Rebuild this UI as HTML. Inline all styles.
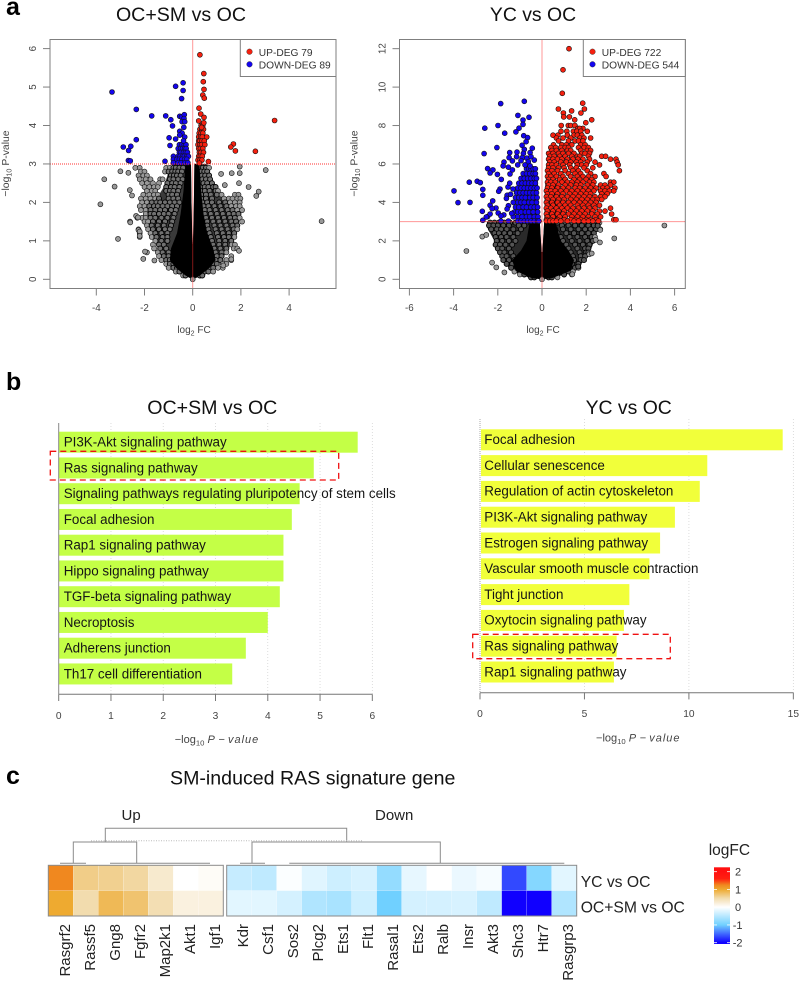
<!DOCTYPE html>
<html lang="en">
<head>
<meta charset="utf-8">
<title>RAS signature figure</title>
<style>
html,body{margin:0;padding:0;background:#fff;}
svg{display:block;font-family:"Liberation Sans",sans-serif;}
</style>
</head>
<body>
<svg id="fig" xmlns="http://www.w3.org/2000/svg" width="800" height="982" viewBox="0 0 800 982">
  <g id="static">
    <text x="6" y="15" font-size="25" font-weight="bold" fill="#000">a</text>
    <text x="6" y="390" font-size="25" font-weight="bold" fill="#000">b</text>
    <text x="6" y="784" font-size="25" font-weight="bold" fill="#000">c</text>
    <text x="181" y="21" font-size="19.6" text-anchor="middle" fill="#111">OC+SM vs OC</text>
    <text x="533" y="21" font-size="19.4" text-anchor="middle" fill="#111">YC vs OC</text>
    <text x="212.3" y="414" font-size="19.6" text-anchor="middle" fill="#111">OC+SM vs OC</text>
    <text x="628.7" y="414" font-size="19.4" text-anchor="middle" fill="#111">YC vs OC</text>
    <text x="170" y="784.7" font-size="19.6" fill="#111">SM-induced RAS signature gene</text>
    <text x="121.5" y="820" font-size="15" fill="#222">Up</text>
    <text x="375" y="820" font-size="15" fill="#222">Down</text>
    <text x="580.7" y="887" font-size="15.7" fill="#222">YC vs OC</text>
    <text x="580.7" y="912.7" font-size="15.7" fill="#222">OC+SM vs OC</text>
    <text x="708.7" y="855" font-size="15.5" fill="#222">logFC</text>
  </g>
  <g stroke="#8a8a8a" stroke-width="1" fill="none">
    <path d="M105.3 842V828.3H346.7V842"/>
    <path d="M73.3 863.3V842H136.7V863.3"/>
    <path d="M252 863.3V842H440.3V863.3"/>
    <path d="M60 863.3H86M110 863.3H210M240 863.3H265M289.3 863.3H564.3"/>
    <path d="M91 840.7H363.3" stroke="#bbb" stroke-dasharray="1 1.5"/>
  </g>
</svg>
<script>
/* ---------- volcano A (OC+SM vs OC): values are log2FC / -log10P ---------- */
const volcanoAGrayRows = [
[2.9,[-2.38,-2.2,-1.1,-.95,-.8,-.7,-.55,-.4,.2,.3,.42,.55,.68]],
[2.8,[-2.15,-2.0,-1.15,-1,-.85,-.72,-.6,-.45,.22,.35,.48,.6]],
[2.7,[-2.25,-2.05,-1.9,-.9,-.78,-.65,-.5,.25,.38,.52,.68]],
[2.6,[-2.2,-1.95,-1.75,-1.35,-1.25,-.95,-.8,-.6,-.42,.25,.4,.55,.72]],
[2.5,[-2.1,-1.9,-1.65,-1.4,-1.05,-.85,-.7,-.5,.3,.45,.6,.8]],
[2.4,[-2,-1.8,-1.6,-1.45,-1.1,-.9,-.75,-.55,.3,.5,.65,.85,.95]],
[2.3,[-1.9,-1.7,-1.55,-1.1,-.95,-.8,-.6,.32,.5,.7,.95,1.05]],
[2.2,[-2.05,-1.8,-1.6,-1.45,-1.0,-.85,-.65,.35,.55,.75,1.0,1.2,1.75,1.9]],
[2.1,[-2.15,-1.95,-1.75,-1.55,-1.4,-1.0,-.8,-.6,.35,.55,.8,1.3,1.5,1.65,1.85,1.98]],
[2.0,[-2.1,-1.9,-1.7,-1.5,-1.35,-1.15,-.95,-.75,-.55,.4,.6,.8,1.1,1.35,1.55,1.75,1.95]],
[1.9,[-2.2,-2.0,-1.8,-1.6,-1.45,-1.25,-1.05,-.85,-.65,.45,.65,.9,1.15,1.4,1.6,1.8,1.95]],
[1.8,[-2.15,-1.95,-1.75,-1.55,-1.35,-1.15,-.9,-.7,.5,.7,.95,1.2,1.45,1.65,1.85,2.05]],
[1.7,[-1.95,-1.75,-1.6,-1.4,-1.2,-1,-.75,.5,.75,1,1.25,1.5,1.7,1.9]],
[1.6,[-2.3,-2.1,-1.95,-1.75,-1.55,-1.3,-1.05,-.8,.55,.8,1.05,1.3,1.55,1.75,1.95]],
[1.5,[-2.6,-2.0,-1.85,-1.65,-1.4,-1.15,-.85,.6,.85,1.1,1.35,1.6,1.8,2.05]],
[1.4,[-1.9,-1.7,-1.45,-1.2,-.9,.6,.9,1.15,1.4,1.65,1.85]],
[1.3,[-2.25,-1.85,-1.65,-1.4,-1.15,-.95,.65,.95,1.2,1.45,1.7,1.85]],
[1.2,[-2.2,-1.75,-1.55,-1.3,-1.05,.7,1,1.25,1.5,1.72]],
[1.1,[-2.2,-1.7,-1.5,-1.25,-1.05,.75,1.05,1.3,1.5,1.73]],
[1.0,[-1.55,-1.3,-1.05,.8,1.1,1.35,1.6]],
[.9,[-1.65,-1.4,-1.2,.85,1.1,1.35,1.62,1.75]],
[.8,[-1.6,-1.35,-1.1,.9,1.15,1.4,1.7,1.85]],
[.7,[-1.9,-1.45,-1.25,-1.0,.95,1.2,1.4]],
[.6,[-1.4,-1.2,-1.0,1,1.2,1.6]],
[.5,[-1.3,-1.1,-.95,.95,1.15,1.4,1.6]],
[.4,[-1.1,-.95,-.8,.85,1.0,1.25,1.4]],
[.3,[-1,-.8,-.65,.7,.85,1.05,1.25]],
[.2,[-.7,-.55,.5,.65,.85]],
[.1,[-.4,-.3,.3,.4]]
];
const volcanoAGrayOutliers = [[-3.83,1.95],[-3.67,2.6],[-3.24,2.41],[-3.1,1.05],[-3,2.81],[-2.67,2.77],[-2.61,2.32],[-2.52,2.18],[-2.59,1.48],[-2.35,1.65],[-2.27,1.61],[-2.25,1.28],[-2.2,1.24],[-2.2,1.13],[-2.05,.53],[-1.98,.72],[-1.59,.49],[5.35,1.51],[3.03,2.84],[2.74,2.28],[2.64,2.17],[2.32,2.4],[1.95,2.93],[1.62,2.76],[1.95,2.76],[1.18,2.74],[1.92,2.5],[1.33,2.45],[1.92,.74],[1.6,.52],[1.27,.36]];
const volcanoARedRows = [
[4.0,[.35,.42]],[3.9,[.3,.38,.45]],[3.8,[.27,.35,.42]],[3.7,[.25,.33,.4,.58]],[3.6,[.25,.3,.38,.48]],[3.5,[.22,.3,.37,.5]],[3.4,[.25,.32,.42]],[3.3,[.28,.35,.45]],[3.2,[.25,.32,.4]],[3.1,[.22,.3,.38]],[3.02,[.28]]
];
const volcanoARedOutliers = [[.3,5.84],[.46,5.35],[.44,5.14],[.47,4.94],[.42,4.79],[.48,4.71],[.26,4.45],[.33,4.3],[.47,4.21],[.25,4.12],[.46,4.07],[.37,3.95],[3.4,4.13],[1.69,3.52],[1.58,3.44],[1.77,3.34],[2.6,3.33],[.65,3.06]];
const volcanoABlueRows = [
[3.5,[-.55,-.45,-.35,-.28]],[3.4,[-.6,-.5,-.42,-.33,-.27]],[3.3,[-.55,-.48,-.38,-.3,-.22]],[3.2,[-.8,-.6,-.52,-.42,-.35,-.25,-.18]],[3.12,[-.8,-.65,-.55,-.45,-.33,-.25]],[3.03,[-.8,-.6,-.48,-.32,-.2]]
];
const volcanoABlueOutliers = [[-3.35,4.87],[-2.34,4.42],[-1.7,4.25],[-1.12,4.25],[-.91,4.15],[-.84,3.99],[-.4,5.11],[-.71,5.02],[-.4,4.91],[-.46,4.7],[-2.34,3.63],[-2.88,3.44],[-2.57,3.46],[-2.66,3.35],[-2.67,3.09],[-2.59,3.08],[-1.15,3.07],[-.98,3.68],[-.94,3.48],[-.71,3.65],[-.54,4.24],[-.46,4.22],[-.35,4.28],[-.36,4.18],[-.44,4.1],[-.33,4.1],[-.37,3.95],[-.54,3.85],[-.44,3.8],[-.54,3.75],[-.33,3.7],[-.38,3.6]];
const volcanoAMidEnvelope = [[0,0],[-.35,.1],[-.8,.3],[-1.2,.55],[-1.4,.8],[-1.6,1.2],[-1.85,1.6],[-1.9,1.9],[-1.5,2.1],[-1.2,2.4],[-1,2.8],[-.75,3],[-.07,3],[-.05,2],[-.02,1],[0,.6],[.02,1],[.05,2],[.07,3],[.6,3],[.8,2.6],[1.1,2.2],[1.6,1.9],[1.95,1.7],[1.8,1.2],[1.5,.8],[1.2,.5],[.8,.25],[.35,.08]];
const volcanoACoreEnvelope = [[0,0],[-.3,.1],[-.7,.3],[-.95,.5],[-.9,.8],[-.65,1.2],[-.5,1.7],[-.38,2.3],[-.3,3],[-.07,3],[-.05,2],[-.02,1.2],[0,.9],[.02,1.2],[.05,2],[.07,3],[.28,3],[.35,2.3],[.45,1.7],[.6,1.2],[.85,.8],[.95,.5],[.7,.3],[.3,.1]];
const volcanoAXTicks = [-4,-2,0,2,4];
const volcanoAYTicks = [0,1,2,3,4,5,6];

/* ---------- volcano B (YC vs OC) ---------- */
const volcanoBGrayRows = [
[2.95,[-2.35,-2.15,-1.95,-1.7,-1.45,-1.2,-.95,-.7,.4,.7,1,1.3,1.6,1.9,2.15,2.4,2.6]],
[2.8,[-2.4,-2.2,-2,-1.75,-1.5,-1.05,-.8,.5,.9,1.2,1.5,1.8,2.1,2.35,2.52]],
[2.6,[-2.3,-2.05,-1.85,-1.6,-1.3,-.95,.6,.95,1.3,1.65,1.95,2.2,2.45,2.64]],
[2.4,[-2.15,-1.95,-1.7,-1.45,-1.1,.7,1.1,1.45,1.8,2.1,2.35]],
[2.2,[-2.1,-1.85,-1.6,-1.3,.85,1.25,1.6,1.95,2.25,2.4]],
[2,[-2.05,-1.8,-1.5,-1.2,.95,1.35,1.7,2.05,2.3]],
[1.8,[-2.1,-1.9,-1.65,-1.35,1.1,1.5,1.85,2.15]],
[1.6,[-2,-1.8,-1.5,1.2,1.6,1.95,2.1]],
[1.4,[-1.9,-1.7,-1.4,1.3,1.7,2.0,2.1]],
[1.2,[-1.8,-1.6,-1.3,1.4,1.75,1.95]],
[1,[-1.75,-1.5,-1.25,1.45,1.75,1.9]],
[.8,[-1.6,-1.35,1.35,1.65]],
[.6,[-1.4,-1.15,1.25,1.5,1.65]],
[.4,[-1.25,-1,-.85,1,1.2,1.4]],
[.25,[-1,-.8,-.6,.7,1,1.35]],
[.1,[-.5,-.35,.3,.45,.7]]
];
const volcanoBGrayOutliers = [[-3.42,1.47],[-2.7,2.22],[-2.52,2.31],[-2.26,.87],[-2.07,.62],[-1.7,.36],[3.27,2.13],[5.54,2.8],[2.62,1.92],[2.43,2.05],[2.14,1.3],[2.25,1.35],[1.64,.66],[1.37,.26],[2.64,2.57],[2.52,2.79]];
const volcanoBRedRows = [
[12,[1.22]],[10.9,[.95]],[9.68,[.92]],[9.16,[1.84]],[8.86,[.74,1.92]],[8.76,[1.34]],[8.65,[.97,1.76]],[8.45,[.98,1.24]],[8.3,[1.48,2.25]],[8.15,[1.98]],[8,[.87,1.19,1.3,1.49]],[7.85,[1.62,1.85,1.7]],
[7.7,[.86,1.12,1.42,1.58,1.75,2.05]],[7.5,[.5,.72,1.15,1.45,1.6,1.8]],[7.35,[.65,.95,1.3,1.72,1.9,2.2]],[7.2,[.75,1.2,1.5,1.65,1.85]],[7,[.52,.9,1.1,1.35,1.75,1.95]],
[6.85,[.4,.62,.85,1.05,1.2,1.65,1.9,2.1]],[6.7,[.45,.65,.9,1.15,1.3,1.75,2.05,2.2]],[6.55,[.3,.5,.75,.95,1.2,1.45,1.8,1.95,2.15]],[6.4,[.35,.55,.8,1.05,1.35,1.6,1.7,2.1,2.7,2.88]],
[6.25,[.3,.5,.7,.9,1.15,1.4,1.62,1.85,2.15,3.1,3.35]],[6.1,[.35,.55,.85,1.1,1.3,1.55,1.75,2.05,2.4,3.4]],[5.95,[.3,.45,.65,.95,1.25,1.6,1.8,2.0,2.6,3.45]],[5.8,[.3,.5,.75,1,1.3,1.55,1.9,2.3]],
[5.65,[.25,.45,.7,1.05,1.4,1.65,2.05,3.5]],[5.5,[.3,.55,.85,1.2,1.5,1.75,2.2,2.8]],[5.35,[.25,.4,.65,.95,1.3,1.6,1.85,2.1,2.4,2.9]],[5.2,[.3,.5,.8,1.05,1.45,1.7,2,2.25]],
[5.05,[.25,.4,.6,.9,1.15,1.35,1.6,1.85,2.15,2.35,3.1,3.25]],[4.9,[.3,.5,.75,1.05,1.3,1.55,1.75,2.05,2.3,2.65,2.85,3.1]],[4.75,[.25,.45,.7,.95,1.2,1.5,1.7,1.95,2.2,2.45,2.75,2.95,3.3]],
[4.6,[.2,.4,.6,.85,1.1,1.35,1.6,1.85,2.1,2.35,2.65,2.85,3.05,3.25]],[4.45,[.25,.45,.7,.95,1.25,1.5,1.75,2,2.2,2.7,2.95]],[4.3,[.2,.4,.65,.9,1.15,1.4,1.65,1.9,2.15,2.4,2.65,2.85]],
[4.15,[.25,.5,.75,1,1.3,1.55,1.8,2.05,2.3,2.5,2.7]],[4,[.2,.45,.7,.95,1.2,1.45,1.7,1.95,2.2,2.45]],[3.85,[.25,.5,.8,1.05,1.3,1.6,1.85,2.1,2.35,2.6]],[3.7,[.2,.4,.65,.9,1.15,1.4,1.65,1.9,2.15,2.4,3.1]],
[3.55,[.25,.5,.75,1,1.3,1.55,1.8,2.05,2.3,2.6,2.85]],[3.4,[.2,.45,.7,.95,1.2,1.45,1.7,1.95,2.25,2.5,3.15]],[3.25,[.25,.5,.8,1.05,1.35,1.6,1.85,2.1,2.4,2.65]],
[3.1,[.2,.4,.7,1,1.3,1.5,1.75,2,2.2,2.45,3.25,3.35]],[3.03,[.2,.35,.5,.65,.85,1.15,1.45,1.65,1.9,2.1,2.3,2.55]]
];
const volcanoBBlueRows = [
[5.75,[-.7,-.6,-.5,-.4,-.3]],[5.5,[-.85,-.7,-.55,-.4,-.3]],[5.25,[-.95,-.8,-.65,-.5,-.35,-.25]],[5,[-1.05,-.9,-.75,-.6,-.45,-.3]],[4.75,[-1.1,-.95,-.8,-.65,-.5,-.35,-.22]],
[4.5,[-1.15,-1,-.85,-.7,-.55,-.4,-.25]],[4.25,[-1.2,-1.05,-.9,-.75,-.55,-.4,-.22]],[4,[-1.3,-1.1,-.95,-.8,-.6,-.45,-.25]],[3.75,[-1.2,-1.05,-.85,-.7,-.5,-.35,-.2]],
[3.5,[-1.25,-1.1,-.95,-.75,-.6,-.4,-.2]],[3.25,[-1.3,-1.1,-.9,-.7,-.55,-.35,-.18]],[3.03,[-1.1,-.95,-.8,-.65,-.5,-.35,-.2,-.14]]
];
const volcanoBBlueOutliers = [[-1.87,9.14],[-.8,9.26],[-1.09,8.53],[-.59,8.43],[-.86,8.29],[-.86,8.06],[-1.99,8],[-2.59,7.86],[-1.04,7.86],[-1.18,7.67],[-1.69,7.6],[-.83,7.47],[-.65,7.37],[-.72,7.16],[-.9,6.97],[-2.04,6.85],[-.8,6.76],[-.44,6.82],[-2.62,6.54],[-1.46,6.59],[-1.13,6.62],[-.84,6.55],[-.54,6.59],[-1.49,6.33],[-1.15,6.38],[-.89,6.33],[-.69,6.3],[-.5,6.38],[-.35,6.2],[-1.72,6.1],[-1.34,6.16],[-.95,6.17],[-.62,6.12],[-1.76,5.9],[-1.52,5.83],[-1.1,5.95],[-.77,5.95],[-.54,5.9],[-2.46,5.76],[-2.22,5.69],[-2.35,5.53],[-2.02,5.46],[-1.34,5.69],[-1.45,5.48],[-1.84,5.2],[-3.29,5.05],[-2.93,5.1],[-2.79,5.03],[-3.98,4.6],[-2.68,4.68],[-1.9,4.7],[-1.96,4.58],[-1.54,4.8],[-1.46,5],[-1.31,4.7],[-2.68,4.37],[-3.8,3.99],[-3.26,4],[-2.23,4.08],[-1.58,4.37],[-1.42,4.42],[-1.61,4.21],[-2.35,3.85],[-2.08,3.71],[-2.26,3.68],[-2.7,3.54],[-1.52,3.83],[-1.58,3.66],[-1.98,3.45],[-1.73,3.35],[-2.46,3.26],[-2.35,3.4],[-2.68,3.07],[-2.52,3.24],[-1.86,3.3],[-1.86,3.03],[-1.52,3.03],[-1.37,3.43]];
const volcanoBMidEnvelope = [[0,0],[-.5,.08],[-1.1,.3],[-1.5,.6],[-1.8,1],[-2,1.5],[-2.2,2.1],[-2.45,2.6],[-2.5,3],[-.1,3],[-.02,1.4],[.02,1.4],[.1,3],[2.6,3],[2.4,2.4],[2.3,1.8],[2.1,1.2],[1.7,.7],[1.3,.35],[.6,.1]];
const volcanoBCoreEnvelope = [[0,0],[-.45,.05],[-1.2,.45],[-1.35,1],[-.95,1.5],[-.7,2],[-.55,3],[-.1,3],[-.02,1.4],[.02,1.4],[.1,3],[.6,3],[.85,2],[1.2,1.5],[1.45,1],[1.3,.45],[.45,.05]];
const volcanoBBlueDense = [[-1,3.05],[-.12,3.05],[-.2,5.5],[-.35,5.8],[-.7,5.8],[-.8,5.2],[-1,4.2]];
const volcanoBRedDense = [[.1,3.05],[.15,5],[.3,5.7],[.6,5.2],[.9,4],[1,3.05]];
const volcanoBXTicks = [-6,-4,-2,0,2,4,6];
const volcanoBYTicks = [0,2,4,6,8,10,12];

/* ---------- pathway bars ---------- */
const barsACategories = ["PI3K-Akt signaling pathway","Ras signaling pathway","Signaling pathways regulating pluripotency of stem cells","Focal adhesion","Rap1 signaling pathway","Hippo signaling pathway","TGF-beta signaling pathway","Necroptosis","Adherens junction","Th17 cell differentiation"];
const barsAValues = [5.72,4.88,4.61,4.46,4.30,4.30,4.23,4.0,3.58,3.32];
const barsATicks = [0,1,2,3,4,5,6];
const barsBCategories = ["Focal adhesion","Cellular senescence","Regulation of actin cytoskeleton","PI3K-Akt signaling pathway","Estrogen signaling pathway","Vascular smooth muscle contraction","Tight junction","Oxytocin signaling pathway","Ras signaling pathway","Rap1 signaling pathway"];
const barsBValues = [14.49,10.88,10.52,9.33,8.62,8.11,7.15,6.89,6.54,6.41];
const barsBTicks = [0,5,10,15];

/* ---------- heatmap ---------- */
const heatGenesUp = ["Rasgrf2","Rassf5","Gng8","Fgfr2","Map2k1","Akt1","Igf1"];
const heatUpYC = [1.25,.65,.62,.55,.3,0,.05];
const heatUpOCSM = [1.0,.5,.85,.75,.47,.2,.2];
const heatGenesDown = ["Kdr","Csf1","Sos2","Plcg2","Ets1","Flt1","Rasal1","Ets2","Ralb","Insr","Akt3","Shc3","Htr7","Rasgrp3"];
const heatDownYC = [-.4,-.45,-.03,-.22,-.35,-.28,-.75,-.17,0,-.14,-.06,-1.65,-.85,-.2];
const heatDownOCSM = [-.2,-.2,-.3,-.55,-.6,-.35,-1.0,-.3,-.3,-.28,-.45,-2,-2,-.55];
const colorStopValues = [-2,-1,0,.5,1,1.25,1.6,2];
const colorStopColors = ["#1000ff","#70d0ff","#ffffff","#f2dcae","#eeaa30","#f0881f","#ff2010","#ff1010"];
const legendTickValues = [2,1,0,-1,-2];

const SVGNS = "http://www.w3.org/2000/svg";
const fig = document.getElementById("fig");
function mk(tag, attrs, parent) {
  const el = document.createElementNS(SVGNS, tag);
  for (const k in attrs) el.setAttribute(k, attrs[k]);
  (parent || fig).appendChild(el);
  return el;
}
function expand(rows) {
  const out = [];
  rows.forEach(r => r[1].forEach(v => out.push([v, r[0]])));
  return out;
}
function polyPoints(list, sx, sy) {
  return list.map(p => sx(p[0]).toFixed(1) + "," + sy(p[1]).toFixed(1)).join(" ");
}
function insidePoly(pt, poly) {
  let hit = false;
  for (let i = 0, j = poly.length - 1; i < poly.length; j = i++) {
    const a = poly[i], b = poly[j];
    if ((a[1] > pt[1]) !== (b[1] > pt[1]) && pt[0] < (b[0] - a[0]) * (pt[1] - a[1]) / (b[1] - a[1]) + a[0]) hit = !hit;
  }
  return hit;
}
function addLog10Title(parent, attrs, tail, italic) {
  const t = mk("text", attrs, parent);
  const a = mk("tspan", {}, t); a.textContent = "\u2212log";
  const b = mk("tspan", {"font-size": parseFloat(attrs["font-size"]) * .7, dy: 2.5}, t); b.textContent = "10";
  const c = mk("tspan", {dy: -2.5}, t); c.textContent = " ";
  if (italic) {
    const d = mk("tspan", {"font-style": "italic", "letter-spacing": ".6"}, t); d.textContent = "P";
    const e = mk("tspan", {}, t); e.textContent = " \u2212 ";
    const f = mk("tspan", {"font-style": "italic", "letter-spacing": "1"}, t); f.textContent = "value";
  } else {
    const d = mk("tspan", {}, t); d.textContent = tail;
  }
  return t;
}

function drawVolcano(cfg) {
  const g = mk("g", {});
  
  
  const sx = v => cfg.x0 + cfg.kx * v;
  const sy = p => cfg.y0 - cfg.ky * p;

  const mid = mk("polygon", {points: polyPoints(cfg.mid, sx, sy), fill: cfg.midFill}, g);
  
  

  cfg.gray.forEach(pt => {
    const inner = insidePoly(pt, cfg.mid);
    const c = mk("circle", {cx: sx(pt[0]).toFixed(1), cy: sy(pt[1]).toFixed(1), r: 2.5, fill: inner ? cfg.innerFill : "#999999", stroke: inner ? "#000" : "#111", "stroke-width": inner ? .9 : .6}, g);
    
    
  });

  const core = mk("polygon", {points: polyPoints(cfg.core, sx, sy), fill: "#000"}, g);
  
  
  const origin = mk("circle", {cx: sx(0), cy: sy(0), r: 2.5, fill: "#999999", stroke: "#111", "stroke-width": .6}, g);
  
  

  if (cfg.blueDense) {
    const bd = mk("polygon", {points: polyPoints(cfg.blueDense, sx, sy), fill: "#05006e"}, g);
    
    
    const rd = mk("polygon", {points: polyPoints(cfg.redDense, sx, sy), fill: "#3a0500"}, g);
    
    
  }
  const layers = [
    {pts: cfg.blue, fill: "#1405ee", name: "gene-point-down"},
    {pts: cfg.red, fill: "#f5200f", name: "gene-point-up"}
  ];
  layers.forEach(l => {
    l.pts.forEach(pt => {
      const c = mk("circle", {cx: sx(pt[0]).toFixed(1), cy: sy(pt[1]).toFixed(1), r: 2.5, fill: l.fill, stroke: "#111", "stroke-width": .6}, g);
      
      
    });
  });

  const vl = mk("line", {x1: sx(0), x2: sx(0), y1: cfg.top, y2: cfg.bottom, stroke: "#ff3030", "stroke-width": 1, "stroke-dasharray": "1 1"}, g);
  
  
  const hl = mk("line", {x1: cfg.left, x2: cfg.right, y1: sy(3), y2: sy(3), stroke: "#ff3030", "stroke-width": 1, "stroke-dasharray": "1 1"}, g);
  
  

  const box = mk("rect", {x: cfg.left, y: cfg.top, width: cfg.right - cfg.left, height: cfg.bottom - cfg.top, fill: "none", stroke: "#7f7f7f", "stroke-width": 1}, g);
  
  

  cfg.xTicks.forEach(t => {
    const tk = mk("line", {x1: sx(t), x2: sx(t), y1: cfg.bottom, y2: cfg.bottom + 7, stroke: "#7f7f7f"}, g);
    
    
    const lb = mk("text", {x: sx(t), y: 311, "font-size": 9.8, "text-anchor": "middle", fill: "#444"}, g);
    
    
    lb.textContent = t;
  });
  cfg.yTicks.forEach(t => {
    const tk = mk("line", {x1: cfg.left - 7, x2: cfg.left, y1: sy(t), y2: sy(t), stroke: "#7f7f7f"}, g);
    
    
    const lbx = cfg.left - 14;
    const lb = mk("text", {x: lbx, y: sy(t), "font-size": 9.8, "text-anchor": "middle", fill: "#444", transform: "rotate(-90 " + lbx + " " + sy(t) + ")"}, g);
    
    
    lb.textContent = t;
  });

  const xt = mk("text", {x: cfg.xTitleX, y: 333, "font-size": 10, "text-anchor": "middle", fill: "#444"}, g);
  
  
  const xa = mk("tspan", {}, xt); xa.textContent = "log";
  const xb = mk("tspan", {"font-size": 7, dy: 2.5}, xt); xb.textContent = "2";
  const xc = mk("tspan", {dy: -2.5}, xt); xc.textContent = " FC";

  const yt = addLog10Title(g, {x: cfg.yTitleX, y: 163.5, "font-size": 10.4, "text-anchor": "middle", fill: "#444", transform: "rotate(-90 " + cfg.yTitleX + " 163.5)"}, " P-value", false);
  
  

  const lg = mk("g", {}, g);
  
  
  const lr = mk("rect", {x: cfg.legendX, y: cfg.top, width: cfg.right - cfg.legendX, height: 37, fill: "#fff", stroke: "#7f7f7f"}, lg);
  
  
  const d1 = mk("circle", {cx: cfg.legendX + 9.2, cy: 51.7, r: 2.8, fill: "#f5200f", stroke: "#222", "stroke-width": .4}, lg);
  
  
  const d2 = mk("circle", {cx: cfg.legendX + 9.2, cy: 64.3, r: 2.8, fill: "#1405ee", stroke: "#222", "stroke-width": .4}, lg);
  
  
  const t1 = mk("text", {x: cfg.legendX + 18.5, y: 56, "font-size": 10.2, fill: "#333"}, lg);
  
  
  t1.textContent = cfg.upLabel;
  const t2 = mk("text", {x: cfg.legendX + 18.5, y: 68.5, "font-size": 10.2, fill: "#333"}, lg);
  
  
  t2.textContent = cfg.downLabel;
}

drawVolcano({
  name: "volcano-oc-sm-vs-oc",
  x0: 192.7, kx: 24.1, y0: 279.3, ky: 38.45, left: 50, right: 336, top: 39.5, bottom: 288.5,
  mid: volcanoAMidEnvelope, core: volcanoACoreEnvelope, midFill: "#3a3a3a", innerFill: "#707070",
  gray: expand(volcanoAGrayRows).concat(volcanoAGrayOutliers),
  red: expand(volcanoARedRows).concat(volcanoARedOutliers),
  blue: expand(volcanoABlueRows).concat(volcanoABlueOutliers),
  xTicks: volcanoAXTicks, yTicks: volcanoAYTicks,
  xTitleX: 194, yTitleX: 9, legendX: 240.3, upLabel: "UP-DEG 79", downLabel: "DOWN-DEG 89"
});
drawVolcano({
  name: "volcano-yc-vs-oc",
  x0: 542, kx: 22.1, y0: 279.3, ky: 19.22, left: 399.5, right: 685.3, top: 39.5, bottom: 288.5,
  mid: volcanoBMidEnvelope, core: volcanoBCoreEnvelope, midFill: "#2a2a2a", innerFill: "#555555",
  blueDense: volcanoBBlueDense, redDense: volcanoBRedDense,
  gray: expand(volcanoBGrayRows).concat(volcanoBGrayOutliers),
  red: expand(volcanoBRedRows),
  blue: expand(volcanoBBlueRows).concat(volcanoBBlueOutliers),
  xTicks: volcanoBXTicks, yTicks: volcanoBYTicks,
  xTitleX: 543, yTitleX: 357.5, legendX: 583.3, upLabel: "UP-DEG 722", downLabel: "DOWN-DEG 544"
});

function drawBars(cfg) {
  const g = mk("g", {});
  
  
  const sx = v => cfg.x0 + cfg.k * v;
  cfg.ticks.forEach(t => {
    if (t === 0) return;
    const gl = mk("line", {x1: sx(t), x2: sx(t), y1: cfg.axisTop, y2: cfg.axisY, stroke: "#d4d4d4", "stroke-width": .8, "stroke-dasharray": "1 2"}, g);
    
    
  });
  cfg.values.forEach((v, i) => {
    const top = cfg.firstTop + cfg.pitch * i;
    const b = mk("rect", {x: cfg.x0 + cfg.inset, y: top, width: Math.max(0, sx(v) - cfg.x0 - cfg.inset), height: 21, fill: cfg.color}, g);
    
    
  });
  const yl = mk("line", {x1: cfg.x0, x2: cfg.x0, y1: cfg.axisTop, y2: cfg.axisY, stroke: cfg.yAxisColor, "stroke-width": 1, "stroke-dasharray": cfg.yDash}, g);
  
  
  cfg.values.forEach((v, i) => {
    const top = cfg.firstTop + cfg.pitch * i;
    const t = mk("text", {x: cfg.labelX, y: top + 14.8, "font-size": 13.4, fill: "#151515"}, g);
    
    
    t.textContent = cfg.categories[i];
  });
  const ax = mk("line", {x1: cfg.x0, x2: sx(cfg.ticks[cfg.ticks.length - 1]), y1: cfg.axisY, y2: cfg.axisY, stroke: "#777", "stroke-width": 1}, g);
  
  
  cfg.ticks.forEach(t => {
    const tk = mk("line", {x1: sx(t), x2: sx(t), y1: cfg.axisY, y2: cfg.axisY + 6.7, stroke: "#777"}, g);
    
    
    const lb = mk("text", {x: sx(t), y: cfg.axisY + 24.5, "font-size": 10.2, "text-anchor": "middle", fill: "#444"}, g);
    
    
    lb.textContent = t;
  });
  const ti = addLog10Title(g, {x: cfg.titleX, y: cfg.titleY, "font-size": 11, "text-anchor": "middle", fill: "#444"}, "", true);
  
  
  const hb = mk("rect", {x: cfg.hl[0], y: cfg.hl[1], width: cfg.hl[2] - cfg.hl[0], height: cfg.hl[3] - cfg.hl[1], fill: "none", stroke: "#f01010", "stroke-width": 1.3, "stroke-dasharray": "6 4"}, g);
  
  
}
drawBars({
  name: "bars-oc-sm-vs-oc", categories: barsACategories, values: barsAValues, ticks: barsATicks,
  x0: 58.7, k: 52.27, inset: 0, firstTop: 431.7, pitch: 25.75, color: "#c4ff46", labelX: 63.7,
  axisTop: 423, axisY: 694.3, titleX: 217, titleY: 743, yAxisColor: "#888", yDash: "none",
  hl: [50.3, 451.3, 338.7, 480]
});
drawBars({
  name: "bars-yc-vs-oc", categories: barsBCategories, values: barsBValues, ticks: barsBTicks,
  x0: 480, k: 20.89, inset: 1, firstTop: 429.3, pitch: 25.8, color: "#f1ff3a", labelX: 484.3,
  axisTop: 419, axisY: 692.7, titleX: 638.3, titleY: 741.7, yAxisColor: "#aaa", yDash: "1 1",
  hl: [472.7, 634.3, 670.3, 658.7]
});

function hexToRgb(h) { return [parseInt(h.slice(1,3),16), parseInt(h.slice(3,5),16), parseInt(h.slice(5,7),16)]; }
function heatColor(v) {
  const vs = colorStopValues;
  if (v <= vs[0]) return colorStopColors[0];
  for (let i = 1; i < vs.length; i++) {
    if (v <= vs[i]) {
      const f = (v - vs[i-1]) / (vs[i] - vs[i-1]);
      const a = hexToRgb(colorStopColors[i-1]), b = hexToRgb(colorStopColors[i]);
      return "rgb(" + a.map((c, k) => Math.round(c + (b[k] - c) * f)).join(",") + ")";
    }
  }
  return colorStopColors[colorStopColors.length - 1];
}
function drawHeat(name, x0, genes, rowA, rowB) {
  const g = mk("g", {});
  
  
  const cw = 25, rh = 25.35, top = 865.3;
  [rowA, rowB].forEach((row, r) => {
    row.forEach((v, i) => {
      const c = mk("rect", {x: x0 + cw * i, y: top + rh * r, width: cw, height: rh, fill: heatColor(v), stroke: "rgba(255,255,255,.35)", "stroke-width": .5}, g);
      
      
    });
  });
  const fr = mk("rect", {x: x0, y: top, width: cw * genes.length, height: rh * 2, fill: "none", stroke: "#8a8a8a", "stroke-width": 1}, g);
  
  
  genes.forEach((n, i) => {
    const lx = x0 + cw * i + cw / 2 + 9;
    const t = mk("text", {x: lx, y: 924, "font-size": 15, "text-anchor": "end", fill: "#222", transform: "rotate(-90 " + lx + " 924)"}, g);
    
    
    t.textContent = n;
  });
}
drawHeat("heatmap-up-genes", 48.3, heatGenesUp, heatUpYC, heatUpOCSM);
drawHeat("heatmap-down-genes", 226.7, heatGenesDown, heatDownYC, heatDownOCSM);

/* colour legend */
(function () {
  const g = mk("g", {});
  
  
  const ly = v => 907.2 - 17.75 * v;
  const top = 867.3, bottom = 944;
  const defs = mk("defs", {}, g);
  const grad = mk("linearGradient", {id: "legendGrad", x1: 0, y1: 0, x2: 0, y2: 1}, defs);
  colorStopValues.slice().reverse().forEach((v, i) => {
    mk("stop", {offset: ((ly(v) - top) / (bottom - top)).toFixed(3), "stop-color": colorStopColors[colorStopColors.length - 1 - i]}, grad);
  });
  const bar = mk("rect", {x: 714, y: top, width: 16, height: bottom - top, fill: "url(#legendGrad)"}, g);
  
  
  legendTickValues.forEach(v => {
    const t = mk("line", {x1: 714, x2: 717, y1: ly(v), y2: ly(v), stroke: "#fff", "stroke-width": .8}, g);
    
    
    const t2 = mk("line", {x1: 727, x2: 730, y1: ly(v), y2: ly(v), stroke: "#fff", "stroke-width": .8}, g);
    
    
    const lb = mk("text", {x: v < 0 ? 732.7 : 735, y: ly(v) + 4, "font-size": 11, fill: "#333"}, g);
    
    
    lb.textContent = v;
  });
})();
</script>
</body>
</html>
